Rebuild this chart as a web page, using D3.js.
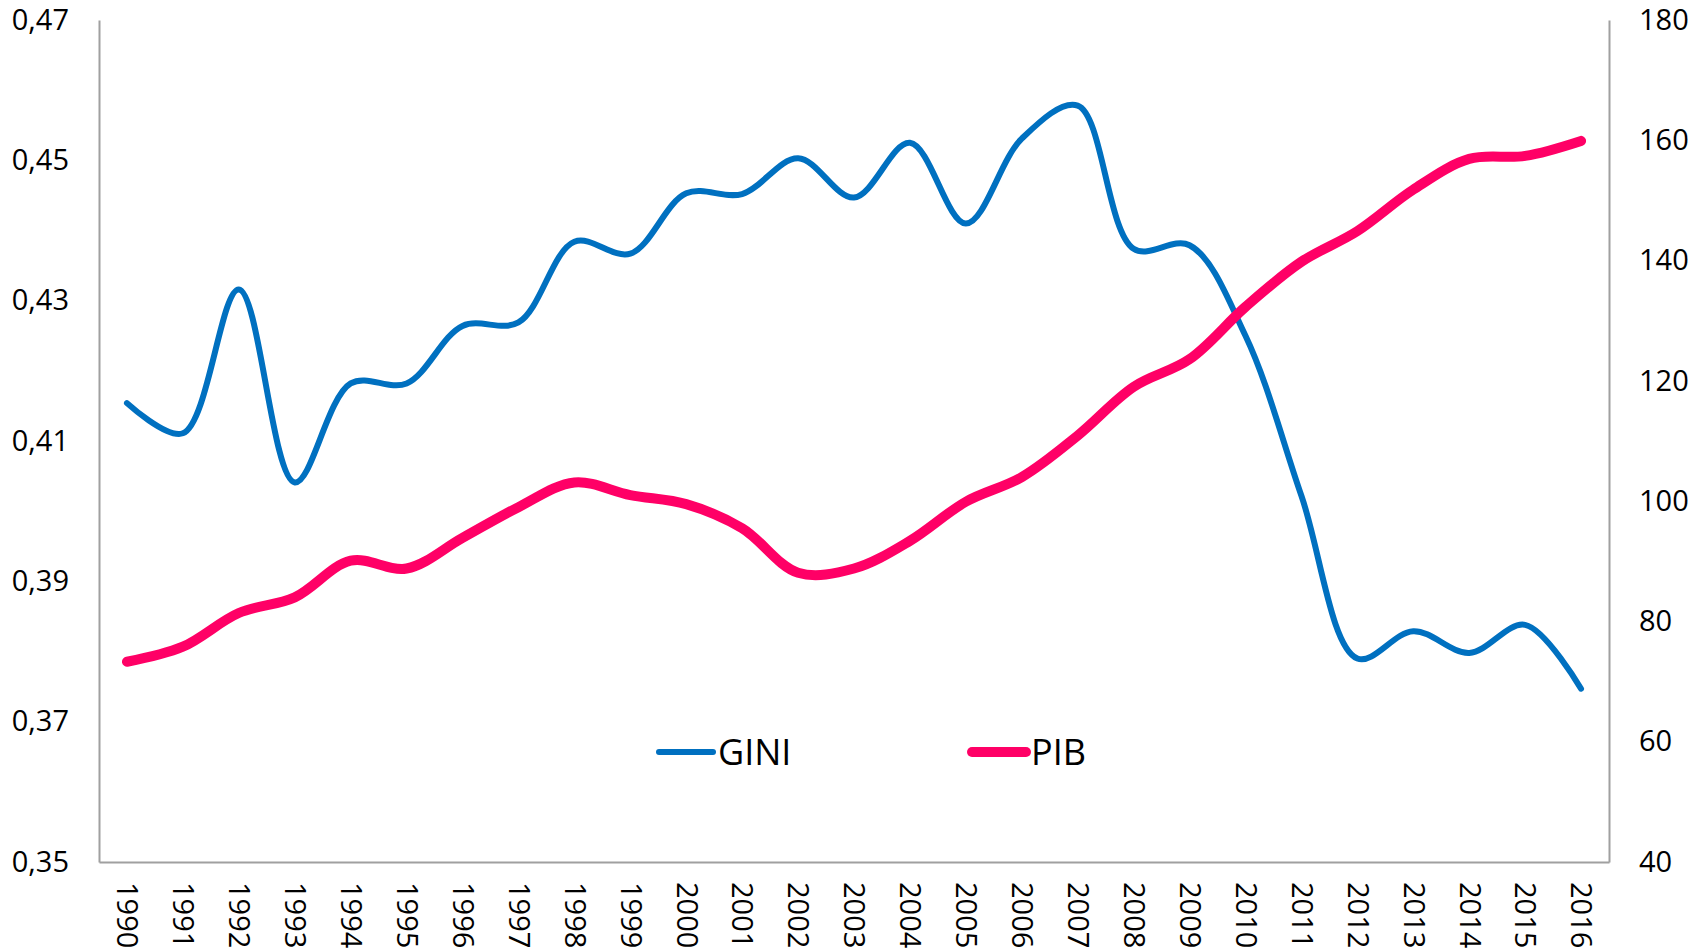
<!DOCTYPE html>
<html>
<head>
<meta charset="UTF-8">
<title>GINI y PIB</title>
<style>
  html, body { margin: 0; padding: 0; background: #fff; }
  svg { display: block; font-family: "Open Sans", "Noto Sans", sans-serif; }
</style>
</head>
<body>
<svg width="1707" height="951"></svg>
<script src="https://d3js.org/d3.v7.min.js"></script>
<script>
// data
var years = d3.range(1990, 2017).map(String);
var gini = [0.4154, 0.4111, 0.4316, 0.4041, 0.4182, 0.4182, 0.4264, 0.4269, 0.4384, 0.4367,
            0.4453, 0.4452, 0.4503, 0.4447, 0.4525, 0.4410, 0.4531, 0.4578, 0.4374, 0.4379,
            0.4250, 0.4022, 0.3790, 0.3829, 0.3798, 0.3838, 0.3747];
var pib = [73.3, 75.8, 81.4, 84.0, 90.1, 88.8, 93.9, 99.0, 103.1, 101.0,
           99.5, 95.5, 88.1, 88.8, 93.4, 99.9, 104.0, 110.9, 119.0, 123.6,
           132.3, 139.8, 144.9, 151.8, 156.9, 157.4, 159.9];
var leftTicks = [0.35, 0.37, 0.39, 0.41, 0.43, 0.45, 0.47];
var rightTicks = [40, 60, 80, 100, 120, 140, 160, 180];
var seriesNames = ["GINI", "PIB"];
var colors = ["#0070C0", "#FF0066"];

// layout
var plotL = 99, plotR = 1609, plotT = 20, plotB = 862;
var svg = d3.select("svg");

var x = d3.scalePoint().domain(years).range([plotL, plotR]).padding(0.5);
var yL = d3.scaleLinear().domain([0.35, 0.47]).range([plotB, plotT]);
var yR = d3.scaleLinear().domain([40, 180]).range([plotB, plotT]);

var comma = function (d) { return d3.format(".2f")(d).replace(".", ","); };

// left axis
var gL = svg.append("g").attr("transform", "translate(" + plotL + ",0)")
  .call(d3.axisLeft(yL).tickValues(leftTicks).tickFormat(comma).tickSize(0).tickPadding(30));
// right axis
var gR = svg.append("g").attr("transform", "translate(" + plotR + ",0)")
  .call(d3.axisRight(yR).tickValues(rightTicks).tickSize(0).tickPadding(30));
// bottom axis
var gB = svg.append("g").attr("transform", "translate(0," + plotB + ")")
  .call(d3.axisBottom(x).tickSize(0));

[gL, gR, gB].forEach(function (g) {
  g.select(".domain").attr("stroke", "#A0A0A0").attr("stroke-width", 2);
  g.selectAll("text").attr("font-size", 29).attr("fill", "#000")
    .attr("font-family", "'Open Sans', sans-serif");
});
gB.selectAll(".tick text")
  .attr("text-anchor", "start")
  .attr("transform", "translate(0,20) rotate(90)")
  .attr("x", 0).attr("y", 0).attr("dy", "0.35em");

// lines
var lineL = d3.line().x(function (d, i) { return x(years[i]); })
  .y(function (d) { return yL(d); }).curve(d3.curveCatmullRom.alpha(0.5));
var lineR = d3.line().x(function (d, i) { return x(years[i]); })
  .y(function (d) { return yR(d); }).curve(d3.curveCatmullRom.alpha(0.5));

svg.append("path").datum(gini).attr("d", lineL)
  .attr("fill", "none").attr("stroke", colors[0]).attr("stroke-width", 6)
  .attr("stroke-linecap", "round").attr("stroke-linejoin", "round");
svg.append("path").datum(pib).attr("d", lineR)
  .attr("fill", "none").attr("stroke", colors[1]).attr("stroke-width", 10)
  .attr("stroke-linecap", "round").attr("stroke-linejoin", "round");

// legend
var legendX = [659, 972];
var legendW = [6, 10];
var lg = svg.append("g").selectAll("g").data(seriesNames).enter().append("g")
  .attr("transform", function (d, i) { return "translate(" + legendX[i] + ",752)"; });
lg.append("line").attr("x1", 0).attr("x2", 54).attr("y1", 0).attr("y2", 0)
  .attr("stroke", function (d, i) { return colors[i]; })
  .attr("stroke-width", function (d, i) { return legendW[i]; })
  .attr("stroke-linecap", "round");
lg.append("text").attr("x", 59).attr("y", 0).attr("dy", "0.36em")
  .attr("font-size", 36).attr("fill", "#000").text(function (d) { return d; });
</script>
</body>
</html>
